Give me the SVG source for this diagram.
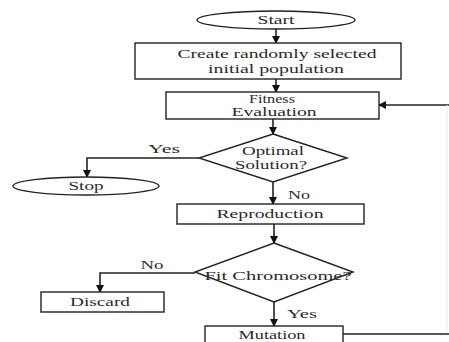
<svg xmlns="http://www.w3.org/2000/svg" width="449" height="342" viewBox="0 0 449 342">
<defs>
<marker id="ah" markerWidth="8" markerHeight="8" refX="7" refY="4" orient="auto" markerUnits="userSpaceOnUse">
<path d="M0,0 L8,4 L0,8 Z" fill="#111"/>
</marker>
<style>
.sh{fill:#fff;stroke:#222;stroke-width:1.4}
.t{font-family:"Liberation Serif","DejaVu Serif",serif;font-size:12px;fill:#2a2a2a;text-anchor:middle;dominant-baseline:central}
.c{fill:none;stroke:#222;stroke-width:1.6}
.ca{fill:none;stroke:#222;stroke-width:1.6;marker-end:url(#ah)}
</style>
</defs>
<rect width="449" height="342" fill="#fff"/>
<g id="connectors">
<line class="ca" x1="276" y1="29" x2="276" y2="43"/>
<line class="ca" x1="276" y1="79" x2="276" y2="92"/>
<line class="ca" x1="449" y1="105" x2="379" y2="105"/>
<line x1="447" y1="105" x2="447" y2="334" stroke="#ececec" stroke-width="1"/>
<line class="ca" x1="273" y1="119" x2="273" y2="134"/>
<polyline class="ca" points="199,158 87,158 87,177"/>
<line class="ca" x1="273" y1="182" x2="273" y2="204"/>
<line class="ca" x1="274" y1="224" x2="274" y2="243"/>
<polyline class="ca" points="195,273 100,273 100,292"/>
<line class="ca" x1="274" y1="302" x2="274" y2="326"/>
<line class="c" x1="343" y1="334" x2="449" y2="334"/>
<text class="t" x="164" y="149" textLength="32" lengthAdjust="spacingAndGlyphs">Yes</text>
<text class="t" x="299" y="195" textLength="22" lengthAdjust="spacingAndGlyphs">No</text>
<text class="t" x="152" y="265" textLength="23" lengthAdjust="spacingAndGlyphs">No</text>
<text class="t" x="302" y="314" textLength="30" lengthAdjust="spacingAndGlyphs">Yes</text>
</g>
<g id="start">
<ellipse class="sh" cx="276" cy="20" rx="79" ry="9"/>
<text class="t" x="276" y="20" textLength="37" lengthAdjust="spacingAndGlyphs">Start</text>
</g>
<g id="create">
<rect class="sh" x="135" y="43" width="266" height="36"/>
<text class="t" x="277" y="54" textLength="199" lengthAdjust="spacingAndGlyphs">Create randomly selected</text>
<text class="t" x="276" y="69" textLength="136" lengthAdjust="spacingAndGlyphs">initial population</text>
</g>
<g id="fitness">
<rect class="sh" x="166" y="92" width="213" height="27"/>
<text class="t" x="272" y="99" font-size="11" textLength="46" lengthAdjust="spacingAndGlyphs">Fitness</text>
<text class="t" x="274" y="112" font-size="11" textLength="85" lengthAdjust="spacingAndGlyphs">Evaluation</text>
</g>
<g id="optimal">
<polygon class="sh" points="273,134 347,158 273,182 199,158"/>
<text class="t" x="273" y="151" textLength="62" lengthAdjust="spacingAndGlyphs">Optimal</text>
<text class="t" x="271" y="165" textLength="72" lengthAdjust="spacingAndGlyphs">Solution?</text>
</g>
<g id="stop">
<ellipse class="sh" cx="86" cy="186" rx="73" ry="9"/>
<text class="t" x="86" y="186" textLength="35" lengthAdjust="spacingAndGlyphs">Stop</text>
</g>
<g id="reproduction">
<rect class="sh" x="177" y="204" width="187" height="20"/>
<text class="t" x="270" y="214" textLength="107" lengthAdjust="spacingAndGlyphs">Reproduction</text>
</g>
<g id="fit">
<polygon class="sh" points="274,243 353,272 274,302 195,272"/>
<text class="t" x="278" y="276" textLength="147" lengthAdjust="spacingAndGlyphs">Fit Chromosome?</text>
</g>
<g id="discard">
<rect class="sh" x="41" y="292" width="123" height="20"/>
<text class="t" x="100" y="302" textLength="60" lengthAdjust="spacingAndGlyphs">Discard</text>
</g>
<g id="mutation">
<rect class="sh" x="205" y="326" width="138" height="22"/>
<text class="t" x="272" y="335" font-size="11" textLength="67" lengthAdjust="spacingAndGlyphs">Mutation</text>
</g>
</svg>
